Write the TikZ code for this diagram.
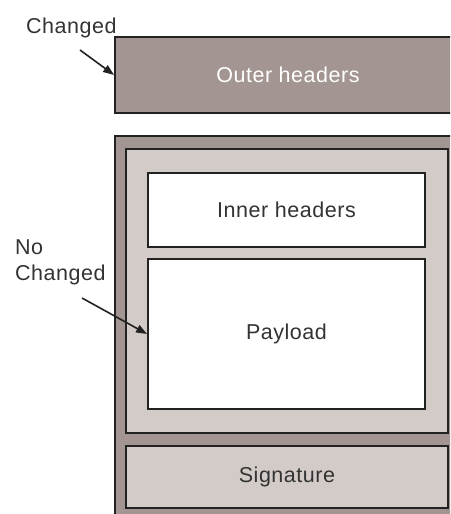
\documentclass[tikz,border=0pt]{standalone}
\usepackage{fontspec}
\setmainfont[LetterSpace=2.5]{Liberation Sans}
\usetikzlibrary{arrows.meta}
\definecolor{darkfill}{HTML}{A39591}
\definecolor{lightfill}{HTML}{D3CBC8}
\definecolor{edge}{HTML}{222222}
\definecolor{txt}{HTML}{333333}
\tikzset{
  box/.style={draw=edge, line width=1.8pt, inner sep=0pt, anchor=center},
  lbl/.style={font=\fontsize{21.5}{26}\selectfont, text=txt},
  arr/.style={-{Triangle[length=11pt,width=8pt]}, line width=1.6pt, draw=edge},
}
\begin{document}
\begin{tikzpicture}[x=1pt,y=-1pt]
\useasboundingbox (0,0) rectangle (450,514);
\clip (0,0) rectangle (450,514);
% outer headers
\node[box, fill=darkfill, minimum width=337pt, minimum height=76pt] (outer) at (283.5,75) {};
\node[lbl, text=white] (outert) at (288,75) {Outer headers};
% big box
\node[box, fill=darkfill, minimum width=337pt, minimum height=380pt] (big) at (283.5,326) {};
\node[box, fill=lightfill, minimum width=322pt, minimum height=284pt] (inner) at (287,291) {};
\node[box, fill=white, minimum width=277pt, minimum height=74pt, lbl] (ih) at (286.5,210) {Inner headers};
\node[box, fill=white, minimum width=277pt, minimum height=150pt, lbl] (pl) at (286.5,334) {Payload};
\node[box, fill=lightfill, minimum width=322pt, minimum height=62pt, lbl] (sig) at (287,477) {Signature};
% labels
\node[lbl, anchor=base west, inner sep=0pt] (ch) at (26,33) {Changed};
\node[lbl, anchor=north west, inner sep=0pt, align=left] (nc) at (15,240) {No\\Changed};
\coordinate (c1) at (80,50);
\coordinate (c2) at (82,298);
\draw[arr] (c1) -- (outer.west);
\draw[arr] (c2) -- (pl.west);
\end{tikzpicture}
\end{document}
